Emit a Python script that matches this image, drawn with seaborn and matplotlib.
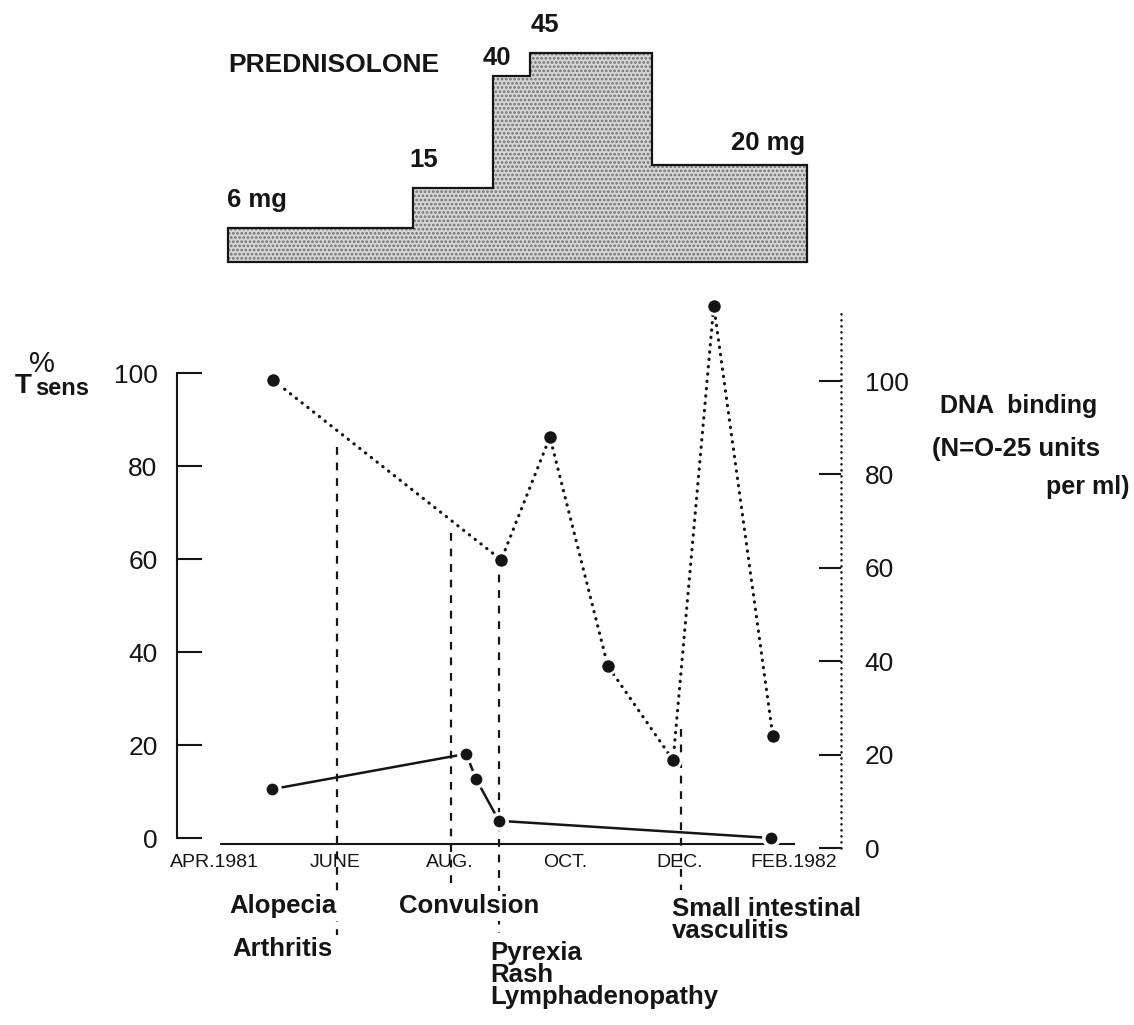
import numpy as np
import pandas as pd
import matplotlib
matplotlib.use("Agg")
import matplotlib.pyplot as plt
import seaborn as sns
from matplotlib.transforms import ScaledTranslation

# -----------------------------
# data (months counted from 1 April 1981)
# -----------------------------
month_ticks = [0, 2, 4, 6, 8, 10]
month_labels = ["APR.1981", "JUNE", "AUG.", "OCT.", "DEC.", "FEB.1982"]

# prednisolone dose steps (mg)
pred_edges = [0.12, 3.35, 4.75, 5.39, 7.52, 10.23]
pred_dose = [6, 15, 40, 45, 20]

# % T sens (solid line, left axis)
tsens_month = [0.89, 4.28, 4.45, 4.85, 9.60]
tsens_pct = [10.5, 18.1, 12.7, 3.7, 0.0]

# DNA binding (dotted line, right axis)
dna_month = [0.91, 4.89, 5.74, 6.75, 7.89, 8.60, 9.63]
dna_units = [100.2, 61.7, 88.0, 39.0, 18.8, 116.1, 24.0]

# clinical events (dashed lines)
event_month = [2.02, 4.01, 4.85, 8.03]
event_top = [84, 65.5, 60, 23.5]

# -----------------------------
# style
# -----------------------------
sns.set_style("white")
plt.rcParams["font.family"] = ["Liberation Sans", "DejaVu Sans"]
plt.rcParams["hatch.linewidth"] = 1.3
INK = "#151515"

W, H = 1134, 1025
fig = plt.figure(figsize=(W / 100, H / 100), dpi=100)


def box(l, t, r, b):
    return [l / W, 1 - b / H, (r - l) / W, (b - t) / H]


def ftext(x, y, s, **kw):
    kw.setdefault("color", INK)
    kw.setdefault("va", "baseline")
    return fig.text(x / W, 1 - y / H, s, **kw)


XLIM = (-0.768, 10.82)

# -----------------------------
# prednisolone block
# -----------------------------
base = -1.5
ax_p = fig.add_axes(box(177, 10, 841, 275))
ax_p.set_xlim(*XLIM)
ax_p.set_ylim(-4.45, 54.6)
ax_p.axis("off")
ax_p.stairs(pred_dose, pred_edges, baseline=base, fill=True,
            facecolor="#d6d6d6", edgecolor="#707070", hatch="....", lw=0)
ax_p.stairs(pred_dose, pred_edges, baseline=base, fill=False,
            edgecolor=INK, lw=1.6)
ax_p.plot([pred_edges[0], pred_edges[-1]], [base, base], color=INK, lw=1.6,
          solid_capstyle="projecting")

# -----------------------------
# main chart
# -----------------------------
ax = fig.add_axes(box(177, 290, 841, 870))
ax.set_xlim(*XLIM)
ax.set_ylim(-6.88, 117.85)
ax2 = ax.twinx()
ax2.set_ylim(-4.71, 119.5)

for s in ["top", "right"]:
    ax.spines[s].set_visible(False)
ax.spines["left"].set_bounds(0, 100)
ax.spines["bottom"].set_position(("data", -1.3))
ax.spines["bottom"].set_bounds(0, 10)
for s in ["left", "bottom"]:
    ax.spines[s].set_linewidth(1.5)
    ax.spines[s].set_color(INK)

for s in ["top", "left", "bottom"]:
    ax2.spines[s].set_visible(False)
rsp = ax2.spines["right"]
rsp.set_bounds(0, 114.8)
rsp.set_linestyle((0, (0.1, 2.3)))
rsp.set_linewidth(1.8)
rsp.set_capstyle("round")
rsp.set_color(INK)

ax.set_xticks(month_ticks, month_labels)
ax.tick_params(axis="x", direction="in", length=13, width=1.5, pad=7,
               labelsize=14, colors=INK)
ax.set_yticks(range(0, 101, 20))
ax.tick_params(axis="y", direction="in", length=18, width=1.5, pad=14,
               labelsize=19, colors=INK)
ax2.set_yticks(range(0, 101, 20))
ax2.tick_params(axis="y", direction="in", length=16, width=1.5, pad=17,
                labelsize=19, colors=INK)

for lbl in ax.get_xticklabels():
    lbl.set_bbox(dict(boxstyle="square,pad=0.1", fc="white", ec="none"))
first = ax.get_xticklabels()[0]
first.set_transform(first.get_transform() + ScaledTranslation(-7 / 100, 0, fig.dpi_scale_trans))

# event lines, run on below the axis and are hidden by the labels
event_bottom = [-20.9, -11.2, -20.4, -11.2]
for m, t, b in zip(event_month, event_top, event_bottom):
    ax.plot([m, m], [t, b], color=INK, lw=1.6, ls=(0, (3.5, 3.5)),
            clip_on=False, zorder=1)

sns.lineplot(x=tsens_month, y=tsens_pct, ax=ax, color=INK, lw=1.8,
             marker="o", ms=11, mfc=INK, mec="white", mew=2.5,
             sort=False, errorbar=None, clip_on=False, zorder=3)
sns.lineplot(x=dna_month, y=dna_units, ax=ax2, color=INK, lw=2.3,
             ls=(0, (0.1, 2.2)), dash_capstyle="round",
             marker="o", ms=11, mfc=INK, mec="white", mew=2.0,
             sort=False, errorbar=None, clip_on=False, zorder=3)
ax.set_xlabel("")
ax.set_ylabel("")
ax2.set_ylabel("")

# -----------------------------
# texts
# -----------------------------
big = dict(fontsize=18.5, fontweight="bold")
ftext(228, 72, "PREDNISOLONE", fontsize=19, fontweight="bold")
ftext(227, 207, "6 mg", **big)
ftext(409, 167, "15", **big)
ftext(483, 65, "40", **big)
ftext(531, 32, "45", **big)
ftext(731, 150, "20 mg", **big)

ftext(42, 372, "%", fontsize=21, ha="center")
ftext(15, 393, "T", fontsize=20, fontweight="bold")
ftext(35, 395, "sens", fontsize=17, fontweight="bold")

ftext(940, 413, "DNA  binding", fontsize=18, fontweight="bold")
ftext(932, 456, "(N=O-25 units", fontsize=18.5, fontweight="bold")
ftext(1130, 494, "per ml)", fontsize=18, fontweight="bold", ha="right")

hide = dict(boxstyle="square,pad=0.1", fc="white", ec="none")
ftext(229, 913, "Alopecia", bbox=hide, zorder=5, **big)
ftext(399, 913, "Convulsion", bbox=hide, zorder=5, **big)
ftext(232, 956, "Arthritis", **big)
ftext(490, 1004, "Pyrexia\nRash\nLymphadenopathy", linespacing=0.9, **big)
ftext(672, 938, "Small intestinal\nvasculitis", linespacing=0.87, **big)

fig.savefig("out.png", dpi=100, facecolor="white")
